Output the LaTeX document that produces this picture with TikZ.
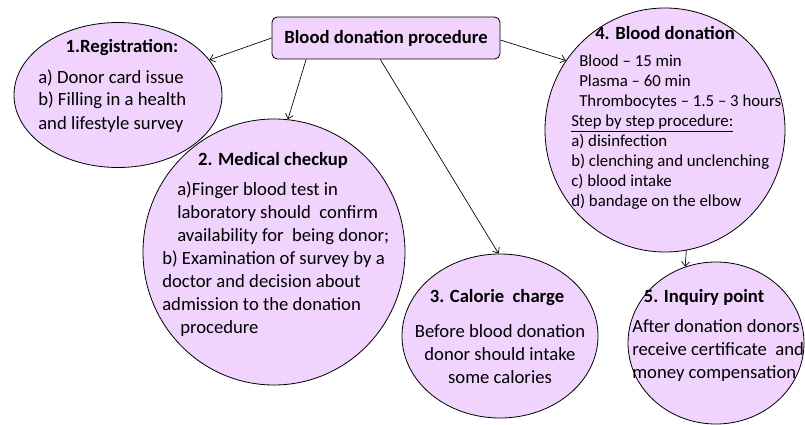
\documentclass[tikz,border=0pt]{standalone}
\usepackage{fontspec}
\setmainfont{Carlito}
\usepackage{xcolor}
\usetikzlibrary{shapes.geometric,arrows.meta}
\definecolor{lilac}{RGB}{240,212,253}

\begin{document}
\begin{tikzpicture}[x=0.75pt,y=-0.75pt,
    >={Straight Barb[length=3.5pt,width=6pt]},
    bubble/.style={draw, fill=lilac, ellipse, inner sep=0pt, line width=0.6pt},
    head/.style={font=\fontsize{14}{17.25}\selectfont\bfseries, anchor=base, inner sep=0pt},
    body/.style={font=\fontsize{14}{17.25}\selectfont, align=left, anchor=base west, inner sep=0pt}]
\useasboundingbox (0,0) rectangle (805,424);
% bubbles
\node[bubble, minimum width=156pt, minimum height=108.75pt] (reg) at (118,95) {};
\node[bubble, minimum width=196.5pt, minimum height=199.5pt] (check) at (274,252) {};
\node[bubble, minimum width=147pt, minimum height=123pt] (calor) at (500,336) {};
\node[bubble, minimum width=180pt, minimum height=183pt] (donat) at (665,130) {};
\node[bubble, minimum width=132pt, minimum height=121.5pt] (inq) at (716,343) {};
\node[draw, fill=lilac, rounded corners=4pt, line width=0.6pt, minimum width=171pt, minimum height=31.5pt, font=\fontsize{14}{17.25}\selectfont\bfseries] (proc) at (386,38) {Blood donation procedure};
% texts (body nodes sit on the baseline of their last line)
\node[head] (regT) at (122,53) {1.Registration:};
\node[body] (regB) at (38,129) {a) Donor card issue\\b) Filling in a health\\and lifestyle survey};
\node[head] (checkT) at (273,165) {2. Medical checkup};
\node[body] (checkB) at (162,333) {\hspace{11.25pt}a)Finger blood test in\\\hspace{11.25pt}laboratory should \ confirm\\\hspace{11.25pt}availability for \ being donor;\\b) Examination of survey by a\\doctor and decision about\\admission to the donation\\\hspace{13.5pt}procedure};
\node[head] (calorT) at (497,302) {3. Calorie \ charge};
\node[body, align=center, anchor=base] (calorB) at (500,383) {Before blood donation\\donor should intake\\some calories};
\node[head] (donatT) at (665,40) {4. Blood donation};
\node[body, font=\fontsize{12.6}{14.9}\selectfont] (donatB) at (571,206) {\hspace{6pt}Blood -- 15 min\\\hspace{6pt}Plasma -- 60 min\\\hspace{6pt}Thrombocytes -- 1.5 -- 3 hours\\\underline{Step by step procedure:}\\a) disinfection\\b) clenching and unclenching\\c) blood intake\\d) bandage on the elbow};
\node[head] (inqT) at (704,302) {5. Inquiry point};
\node[body] (inqB) at (632,378) {After donation donors\\receive certificate \ and\\money compensation};
% arrows
\draw[->, line width=0.5pt] (proc.west) -- (reg.21);
\draw[->, line width=0.5pt] (proc.-165.5) -- (check.84);
\draw[->, line width=0.5pt] (proc.-105) -- (calor.91);
\draw[->, line width=0.5pt] (proc.-1) -- (donat.145);
\draw[->, line width=0.5pt] (donat.-80) -- (inq.112);
\end{tikzpicture}
\end{document}
